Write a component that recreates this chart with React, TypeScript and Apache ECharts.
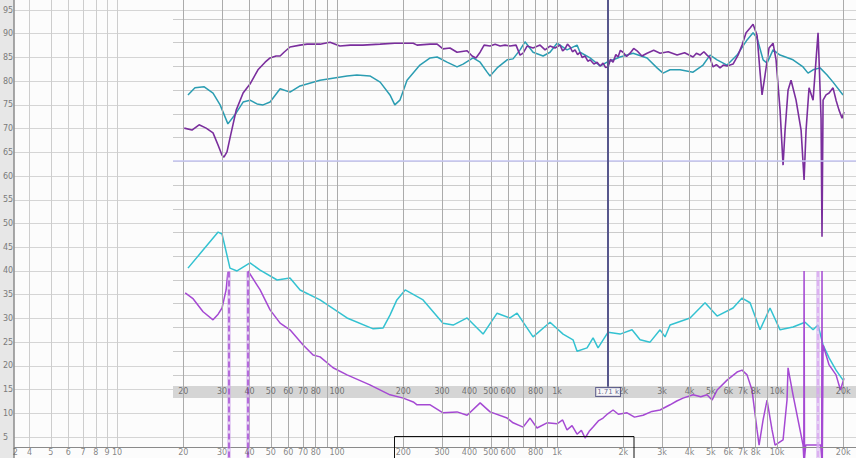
import { useEffect, useRef } from "react";
import * as echarts from "echarts";

// ---- data: [frequency Hz, level dB] ----
const upperPurple: [number, number][] = [
  [20.2, 70.1], [21.9, 69.7], [23.6, 70.8], [25.4, 70.1], [27.3, 69.1], [28.8, 66.5], [30.0, 64.4], [30.6, 64.0],
  [31.6, 65.1], [32.6, 68.0], [34.8, 73.9], [37.4, 77.5], [40.2, 79.4], [43.7, 82.4], [47.1, 84.0], [49.6, 84.9],
  [52.8, 85.3], [55.1, 85.3], [57.4, 86.1], [61.1, 87.2], [67.9, 87.6], [73.1, 87.8], [83.7, 87.8], [92.9, 88.2],
  [103, 87.4], [115, 87.6], [131, 87.6], [157, 87.8], [183, 88.0], [222, 88.0], [231, 87.6], [265, 87.8], [285, 87.8],
  [303, 86.8], [326, 87.0], [351, 86.1], [390, 86.4], [411, 85.3], [428, 84.9], [447, 86.1], [466, 87.6], [496, 87.4],
  [523, 87.8], [551, 87.4], [580, 87.6], [611, 87.4], [651, 87.6], [679, 85.5], [701, 85.9], [731, 87.4], [778, 87.0],
  [837, 87.6], [882, 86.6], [929, 87.4], [979, 87.0], [1032, 87.6], [1060, 86.4], [1087, 86.8], [1115, 87.8],
  [1146, 87.2], [1175, 86.2], [1207, 86.6], [1240, 85.6], [1272, 86.1], [1300, 85.0], [1341, 85.3], [1380, 84.2],
  [1413, 84.5], [1470, 83.6], [1520, 84.0], [1570, 83.2], [1619, 83.8], [1660, 82.9], [1706, 83.0], [1750, 84.6],
  [1797, 84.0], [1850, 85.6], [1894, 85.1], [1940, 86.5], [1995, 86.1], [2070, 85.2], [2147, 85.9], [2230, 86.9],
  [2310, 86.4], [2430, 85.3], [2565, 85.9], [2750, 86.5], [2939, 85.9], [3200, 86.2], [3513, 85.5], [3800, 86.0],
  [4152, 85.1], [4300, 85.9], [4467, 85.5], [4650, 86.2], [4806, 85.5], [4961, 84.9], [5119, 83.0], [5300, 83.5],
  [5507, 82.8], [5700, 83.4], [5926, 83.2], [6310, 83.6], [6650, 85.5], [6934, 87.6],
  [7231, 90.2], [7540, 91.2], [7781, 92.0], [8111, 89.7], [8370, 81.9], [8547, 77.1], [8820, 81.3], [9196, 87.0],
  [9590, 88.0], [9896, 84.5], [10320, 73.9], [10650, 62.3], [10870, 69.5], [11220, 78.1], [11580, 80.2],
  [12200, 76.0], [12860, 69.7], [13270, 59.2], [13550, 69.7], [13980, 78.6], [14580, 76.0], [15040, 84.5],
  [15360, 90.2], [15520, 84.5], [15850, 72.2], [16010, 47.2], [16190, 76.0], [16700, 77.1], [17240, 77.5],
  [17970, 78.6], [18540, 76.0], [19130, 73.9], [19750, 72.2], [20160, 73.5],
];

const upperCyan: [number, number][] = [
  [21.0, 77.1], [22.6, 78.6], [24.9, 78.8], [27.3, 77.5], [29.4, 75.0], [31.9, 71.0], [34.8, 73.3], [37.4, 75.6],
  [40.2, 76.0], [43.3, 75.2], [46.1, 75.0], [49.6, 75.6], [55.1, 78.4], [61.1, 77.7], [67.9, 79.0], [83.7, 80.2],
  [111, 81.1], [123, 81.3], [141, 81.1], [157, 79.8], [174, 77.1], [183, 75.0], [193, 76.0], [208, 80.2],
  [238, 83.4], [265, 84.9], [285, 85.1], [316, 84.0], [351, 83.0], [374, 83.6], [415, 84.9], [447, 84.0],
  [481, 81.9], [496, 81.1], [534, 82.8], [593, 84.5], [631, 84.7], [679, 86.6], [715, 88.3], [778, 86.1],
  [864, 85.3], [929, 86.1], [1000, 88.0], [1110, 86.6], [1233, 87.6], [1272, 86.1], [1413, 84.9], [1569, 83.2],
  [1688, 84.0], [1934, 85.1], [2216, 85.9], [2565, 84.9], [2848, 82.8], [3033, 81.7], [3263, 82.4], [3623, 82.4],
  [4152, 81.9], [4610, 83.4], [4961, 85.5], [5339, 84.5], [5926, 83.4], [6579, 85.5], [7305, 88.7], [7781, 90.2],
  [8111, 89.1], [8641, 84.5], [9006, 83.8], [9590, 86.6], [10320, 85.5], [11820, 84.5], [13130, 83.0],
  [13830, 81.7], [14580, 82.4], [15690, 82.8], [16880, 81.3], [17970, 79.8], [19950, 77.1],
];

const lowerCyan: [number, number][] = [
  [21.0, 40.6], [24.6, 44.4], [28.8, 48.2], [30.0, 47.8], [32.6, 40.6], [35.1, 40.0], [40.2, 41.7], [44.7, 40.2],
  [53.4, 38.1], [61.1, 38.5], [67.9, 36.0], [83.7, 33.9], [111, 30.1], [146, 27.8], [162, 28.0], [174, 30.7],
  [187, 33.9], [204, 36.0], [246, 33.9], [303, 29.0], [337, 28.6], [390, 30.1], [461, 26.7], [534, 31.1],
  [611, 30.1], [658, 31.1], [778, 26.1], [929, 29.2], [1065, 26.7], [1182, 25.5], [1233, 23.1], [1369, 23.8],
  [1458, 25.9], [1536, 23.8], [1706, 27.1], [1934, 26.7], [2192, 27.6], [2384, 25.5], [2647, 25.0], [2939, 27.6],
  [3097, 26.1], [3263, 28.6], [4023, 30.1], [4707, 33.3], [5339, 30.5], [6310, 32.2], [6934, 34.3], [7540, 33.3],
  [8370, 27.6], [9290, 32.2], [10320, 27.6], [11820, 28.2], [13410, 29.2], [14580, 27.6], [15360, 28.6],
  [16190, 24.4], [17240, 21.7], [18540, 19.1], [19950, 17.0],
];

const lowerPurple: [number, number | null][] = [
  [20.4, 35.4], [22.2, 34.1], [24.6, 31.4], [27.3, 29.7], [28.8, 30.9], [30.0, 32.2], [31.3, 36.0], [31.9, 39.8],
  [35.0, null],
  [39.4, 40.0], [44.7, 36.0], [49.6, 31.8], [55.1, 29.0], [61.1, 27.6], [70.1, 24.4], [77.8, 22.3], [83.7, 21.9],
  [95.9, 19.6], [111, 18.1], [141, 16.0], [174, 13.9], [200, 13.2], [222, 12.4], [231, 11.8], [265, 11.8],
  [303, 10.1], [351, 10.3], [390, 9.6], [447, 12.2], [496, 10.3], [593, 9.0], [631, 8.0], [701, 7.1], [754, 9.0],
  [811, 6.9], [900, 8.0], [1000, 7.8], [1060, 8.6], [1110, 6.5], [1170, 7.4], [1233, 5.6], [1290, 6.4], [1341, 4.8],
  [1400, 6.2], [1458, 7.1], [1540, 8.4], [1619, 9.0], [1700, 9.9], [1797, 10.7], [1900, 9.8], [2081, 10.1],
  [2250, 9.2], [2460, 9.6], [2700, 10.4], [2939, 10.7], [3263, 11.8], [3500, 12.6], [3738, 13.2], [4152, 13.9],
  [4500, 13.5], [4806, 13.9], [5064, 12.8], [5339, 14.9], [5926, 17.0], [6579, 18.7], [6934, 19.1], [7305, 18.1],
  [7696, 14.9], [8111, 6.5], [8286, 3.3], [8641, 8.6], [9006, 12.8], [9490, 6.5], [9793, 3.3], [10650, 4.4],
  [11100, 12.8], [11220, 19.6], [11820, 13.9], [12720, 6.5], [13130, 3.3], [13230, 0.5], [13270, 40.0],
  [13330, 0.5], [13500, 3.3], [15800, 3.3], [15950, 0.5], [16010, 40.0], [16060, 0.5], [16190, 24.4],
  [17240, 20.2], [18540, 18.1], [19420, 14.9], [20160, 17.4],
];

// dashed markers (Hz) drawn from the lower curve down to the bottom
const dashedMarkerFreqs = [32.3, 39.1];
const lavenderMarkerFreq = 15360;
const cursorFreq = 1706;
const cursorText = "1.71 k";

// ---- axes / ticks ----
const backGridFreqsLow = [4, 5, 6, 7, 8, 9, 10];
const decades = [10, 100, 1000, 10000];
const multipliers = [1, 2, 3, 4, 5, 6, 7, 8, 9];
const backGridFreqsHigh: number[] = [];
decades.forEach((d) => multipliers.forEach((m) => {
  const f = d * m;
  if (f >= 20 && f <= 20000) backGridFreqsHigh.push(f);
}));
const backTickLabels = ["2", "4", "5", "6", "7", "8", "9", "10", "20", "30", "40", "50", "60", "70", "80", "100",
  "200", "300", "400", "500", "600", "800", "1k", "2k", "3k", "4k", "5k", "6k", "7k", "8k", "10k", "20k"];
const backTickFreqs = [3.45, 4, 5, 6, 7, 8, 9, 10, 20, 30, 40, 50, 60, 70, 80, 100,
  200, 300, 400, 500, 600, 800, 1000, 2000, 3000, 4000, 5000, 6000, 7000, 8000, 10000, 20000];
const frontTickLabels = ["20", "30", "40", "50", "60", "70", "80", "100", "200", "300", "400", "500", "600", "800",
  "1k", "2k", "3k", "4k", "5k", "6k", "7k", "8k", "10k", "20k"];
const frontTickFreqs = [20, 30, 40, 50, 60, 70, 80, 100, 200, 300, 400, 500, 600, 800,
  1000, 2000, 3000, 4000, 5000, 6000, 7000, 8000, 10000, 20000];

const FONT = "DejaVu Sans";

function buildOption(): any {
  const vline = (f: number, lo: number, hi: number) => [{ coord: [f, lo] }, { coord: [f, hi] }];
  return {
    animation: false,
    backgroundColor: "#e7e7e7",
    grid: [
      { left: 14, right: 0, top: -13.725, bottom: -2.775, show: true, backgroundColor: "#fcfcfc", borderWidth: 0,
        containLabel: false, outerBoundsMode: "none" },
      { left: 173, right: 0, top: -4.71, bottom: 83.1, show: false, containLabel: false, outerBoundsMode: "none" },
    ],
    xAxis: [
      { type: "log", gridIndex: 0, min: 3.4, max: 22850, show: false },
      { type: "log", gridIndex: 1, min: 17.97, max: 22850, show: false },
    ],
    yAxis: [
      {
        type: "value", gridIndex: 0, min: 0, max: 100, interval: 5,
        axisLine: { show: true, lineStyle: { color: "#8c8c8c", width: 1.5 } },
        axisTick: { show: false },
        splitLine: { show: true, lineStyle: { color: "#d5d5d5", width: 1 } },
        axisLabel: {
          show: true, align: "left", margin: 11, fontSize: 8, color: "#7a7a7a", fontFamily: FONT,
          formatter: (v: number) => (v > 0 && v < 100 ? String(v) : ""),
        },
      },
      {
        type: "value", gridIndex: 1, min: 18.1, max: 98.1, interval: 5,
        axisLine: { show: false }, axisTick: { show: false }, axisLabel: { show: false },
        splitLine: { show: true, lineStyle: { color: "#cbcbcb", width: 1 } },
      },
    ],
    graphic: [
      { type: "rect", z: 1, silent: true, shape: { x: 173, y: 386, width: 683, height: 12 }, style: { fill: "#d5d5d5" } },
      { type: "rect", z: 10, silent: true, shape: { x: 394.5, y: 436.5, width: 239.5, height: 30 },
        style: { fill: "none", stroke: "#111", lineWidth: 1 } },
    ],
    series: [
      {
        type: "line", xAxisIndex: 0, yAxisIndex: 0, data: [], silent: true,
        markLine: {
          silent: true, symbol: "none", label: { show: false }, animation: false,
          lineStyle: { color: "#cdcdcd", width: 1, type: "solid" },
          data: backGridFreqsLow.map((f) => vline(f, 2.9, 100)),
        },
      },
      {
        type: "line", xAxisIndex: 0, yAxisIndex: 0, data: [], silent: true,
        markLine: {
          silent: true, symbol: "none", label: { show: false }, animation: false,
          lineStyle: { color: "#ababab", width: 1, type: "solid" },
          data: [
            ...backGridFreqsHigh.map((f) => vline(f, 2.9, 100)),
            { yAxis: 2.9, lineStyle: { color: "#8a8a8a", width: 1.2 } },
          ],
        },
      },
      {
        type: "line", xAxisIndex: 1, yAxisIndex: 1, data: [], silent: true,
        markLine: {
          silent: true, symbol: "none", label: { show: false }, animation: false,
          lineStyle: { color: "#c6c6f2", width: 1.5, type: "solid" },
          data: [{ yAxis: 63.2 }],
        },
      },
      {
        type: "line", xAxisIndex: 0, yAxisIndex: 0, data: [], silent: true, z: 3,
        markLine: {
          silent: true, symbol: "none", label: { show: false }, animation: false,
          lineStyle: { color: "rgba(205,160,235,0.45)", width: 4, type: "solid" },
          data: [...dashedMarkerFreqs, lavenderMarkerFreq].map((f) => vline(f, 39.9, 0.3)),
        },
      },
      {
        name: "upper cyan", type: "line", xAxisIndex: 0, yAxisIndex: 0, data: upperCyan, showSymbol: false,
        symbol: "none", z: 3, lineStyle: { color: "#2b9db2", width: 1.5 },
      },
      {
        name: "upper purple", type: "line", xAxisIndex: 0, yAxisIndex: 0, data: upperPurple, showSymbol: false,
        symbol: "none", z: 4, lineStyle: { color: "#7a2e9d", width: 1.6 },
      },
      {
        name: "lower cyan", type: "line", xAxisIndex: 0, yAxisIndex: 0, data: lowerCyan, showSymbol: false,
        symbol: "none", z: 3, lineStyle: { color: "#33c2d1", width: 1.5 },
      },
      {
        name: "lower purple", type: "line", xAxisIndex: 0, yAxisIndex: 0, data: lowerPurple, showSymbol: false,
        symbol: "none", z: 4, connectNulls: false, lineStyle: { color: "#a549d3", width: 1.5 },
        markLine: {
          silent: true, symbol: "none", label: { show: false }, animation: false,
          lineStyle: { color: "#a549d3", width: 1.5, type: "dashed" },
          data: [
            ...dashedMarkerFreqs.map((f) => vline(f, 39.9, 0.3)),
            [{ coord: [lavenderMarkerFreq, 40], lineStyle: { color: "#d9a6ef", width: 1.5, type: "dashed" } },
              { coord: [lavenderMarkerFreq, 0.3] }],
          ],
        },
      },
      {
        type: "line", xAxisIndex: 0, yAxisIndex: 0, data: [], silent: true, z: 5,
        markLine: {
          silent: true, symbol: "none", label: { show: false }, animation: false,
          lineStyle: { color: "#57578c", width: 2, type: "solid" },
          data: [vline(cursorFreq, 100, 15.6)],
        },
      },
      {
        type: "scatter", xAxisIndex: 0, yAxisIndex: 0, silent: true, z: 6, symbolSize: 1,
        itemStyle: { color: "transparent" },
        label: {
          show: true, position: "inside", fontSize: 8, color: "#666", fontFamily: FONT,
          formatter: (p: any) => backTickLabels[p.dataIndex],
        },
        data: backTickFreqs.map((f) => [f, 1.74]),
      },
      {
        type: "scatter", xAxisIndex: 0, yAxisIndex: 0, silent: true, z: 6, symbolSize: 1,
        itemStyle: { color: "transparent" },
        label: {
          show: true, position: "inside", fontSize: 8, color: "#555", fontFamily: FONT,
          formatter: (p: any) => frontTickLabels[p.dataIndex],
        },
        data: frontTickFreqs.map((f) => [f, 14.5]),
      },
      {
        type: "scatter", xAxisIndex: 0, yAxisIndex: 0, silent: true, z: 7, symbolSize: 1,
        itemStyle: { color: "transparent" },
        label: {
          show: true, position: "inside", fontSize: 7, color: "#45457a", fontFamily: FONT,
          backgroundColor: "#ffffff", borderColor: "#45457a", borderWidth: 1, padding: [1, 1, 0, 1],
          formatter: () => cursorText,
        },
        data: [[cursorFreq, 14.5]],
      },
    ],
  };
}

export default function App() {
  const ref = useRef<HTMLDivElement>(null);
  useEffect(() => {
    if (!ref.current) return;
    const chart = echarts.init(ref.current, null, { renderer: "svg" });
    chart.setOption(buildOption());
    return () => chart.dispose();
  }, []);
  return <div ref={ref} style={{ position: "fixed", left: 0, top: 0, width: 856, height: 458 }} />;
}
